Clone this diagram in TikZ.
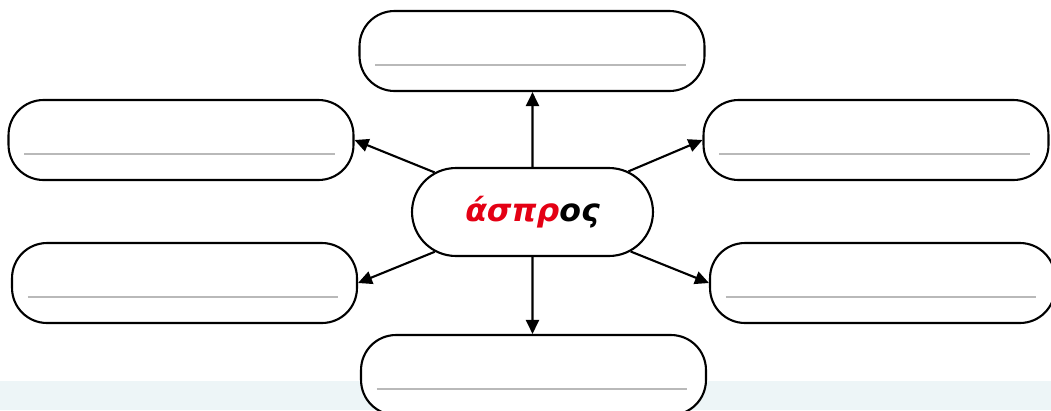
\documentclass[tikz,border=0pt]{standalone}
\usepackage{fontspec}
\newfontfamily\greekfont{DejaVu Sans}
\usetikzlibrary{arrows.meta,shapes.misc}
\definecolor{wordred}{RGB}{228,0,20}
\definecolor{bandcyan}{RGB}{237,245,247}
\definecolor{ruleGrey}{RGB}{185,185,185}
\begin{document}
\begin{tikzpicture}[x=0.02cm,y=-0.02cm,
        wordbox/.style={draw,fill=white,line width=1.2pt,rounded corners=0.7cm,minimum width=6.9cm,minimum height=1.6cm},
        arr/.style={-{Triangle[length=0.28cm,width=0.26cm]},line width=1.2pt}]
    \fill[white] (0,0) rectangle (1051,410);
    \fill[bandcyan] (0,381) rectangle (1051,410);
    \useasboundingbox (0,0) rectangle (1051,410);
    \node[wordbox] (top) at (532,51) {};
    \node[wordbox] (lefttop) at (181,140) {};
    \node[wordbox] (righttop) at (876,140) {};
    \node[wordbox] (leftbot) at (184.5,283) {};
    \node[wordbox] (rightbot) at (882.5,283) {};
    \node[wordbox] (bot) at (533.5,375) {};
    \foreach \b in {top,lefttop,righttop,leftbot,rightbot,bot}
        \draw[ruleGrey,line width=1pt] ([shift={(17,-27)}]\b.south west) -- ([shift={(-20,-27)}]\b.south east);
    \node[draw,fill=white,line width=1.2pt,rounded rectangle,minimum width=4.82cm,minimum height=1.76cm,inner sep=0pt] (word) at (532.5,212)
        {\greekfont\bfseries\itshape\fontsize{18}{22}\selectfont\textcolor{wordred}{άσπρ}ος};
    \draw[arr] (word) -- (word |- top.south);
    \draw[arr] (word) -- (word |- bot.north);
    \draw[arr] (word) -- (lefttop.east);
    \draw[arr] (word) -- (leftbot.east);
    \draw[arr] (word) -- (righttop.west);
    \draw[arr] (word) -- (rightbot.west);
\end{tikzpicture}
\end{document}
